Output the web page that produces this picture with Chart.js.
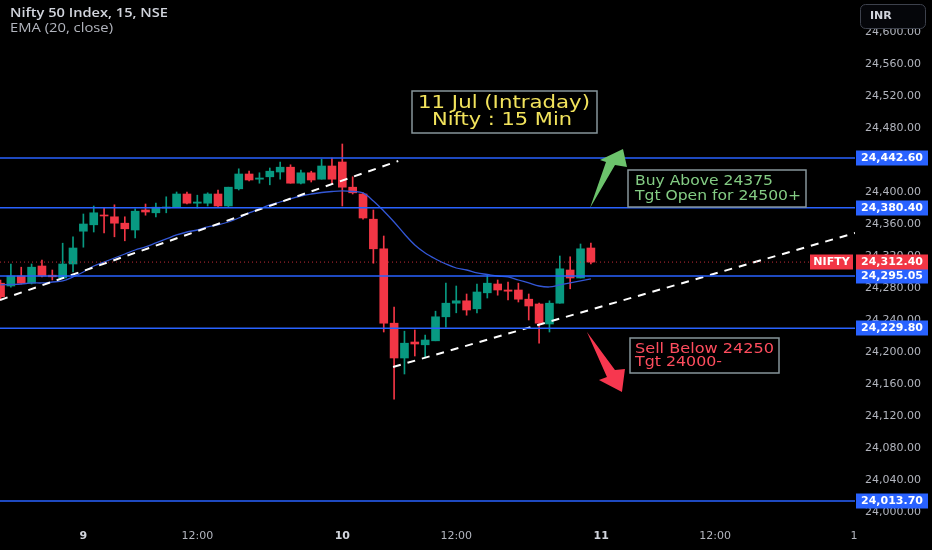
<!DOCTYPE html>
<html>
<head>
<meta charset="utf-8">
<script src="https://cdn.jsdelivr.net/npm/chart.js@4.4.1/dist/chart.umd.min.js"></script>
<style>
  html, body { margin: 0; padding: 0; background: #000; }
  #chart { display: block; }
</style>
</head>
<body>
<canvas id="chart" width="932" height="550"></canvas>
<script>
// 15 min candles, 8 Jul (last 8 bars), 9 Jul and 10 Jul
const opens = [24286, 24282.5, 24295, 24286, 24307.5, 24296, 24292.5, 24310,
  24351, 24359, 24371, 24369, 24361, 24352.5, 24377.5, 24374, 24380, 24381, 24397.5, 24386, 24386,
  24397.5, 24382.5, 24404, 24422.5, 24416, 24419, 24425, 24431, 24411, 24424, 24416, 24432.5,
  24437.5, 24406, 24397.5, 24366, 24329, 24236, 24192.5, 24212.5, 24209, 24214, 24244, 24261,
  24264, 24254, 24274, 24285, 24277.5, 24277.5, 24266, 24260, 24235, 24261, 24302.5, 24292.5, 24330];
const highs = [24290, 24310, 24306, 24310, 24315, 24302.5, 24336, 24344,
  24372.5, 24382.5, 24380, 24384, 24369, 24379, 24385, 24386, 24394, 24400, 24400, 24396, 24399,
  24402.5, 24406, 24429, 24426, 24424, 24430, 24437.5, 24434, 24427.5, 24426, 24441, 24442.5,
  24460, 24419, 24399, 24377.5, 24345, 24256, 24226, 24227.5, 24221, 24251, 24286, 24282.5,
  24272.5, 24285, 24296, 24290, 24287.5, 24286, 24272.5, 24261, 24264, 24320, 24319, 24335, 24336];
const lows = [24265, 24281, 24285, 24285, 24294, 24290, 24292, 24300,
  24331, 24350, 24349, 24344, 24339, 24342.5, 24371, 24369, 24374, 24381, 24385, 24380, 24382.5,
  24381, 24381, 24402.5, 24414, 24411, 24409, 24416, 24411, 24410, 24412.5, 24416, 24410,
  24382.5, 24397.5, 24366, 24311, 24225, 24141, 24172.5, 24195, 24192.5, 24214, 24231, 24249,
  24246, 24249, 24267.5, 24271, 24265, 24262.5, 24240, 24211, 24225, 24261, 24279, 24292.5, 24310];
const closes = [24269, 24295, 24286, 24306, 24295, 24294, 24310, 24330,
  24360, 24374, 24370, 24361, 24354, 24376, 24375, 24381, 24381, 24397.5, 24386, 24387.5, 24397.5,
  24382.5, 24406, 24422.5, 24415, 24417.5, 24426, 24431, 24411, 24424, 24415, 24432.5, 24416,
  24406, 24399, 24367.5, 24329, 24236, 24192.5, 24211, 24210, 24215, 24244, 24261, 24264,
  24252.5, 24275, 24286, 24277.5, 24276, 24266, 24257.5, 24236, 24261, 24304, 24292.5, 24329, 24312.4];
const ema20 = [24283.8, 24284.4, 24285, 24286.3, 24286.3, 24287.5, 24288.8, 24293.8,
  24300, 24307.5, 24312.5, 24317.5, 24322.5, 24327.5, 24331.3, 24336.3, 24341.3, 24346.3, 24350, 24352.5, 24356.3,
  24358.8, 24362.5, 24367.5, 24373.8, 24378.8, 24383.8, 24387.5, 24391.3, 24395, 24397.5, 24399.4, 24400.6,
  24401.3, 24400.6, 24398.8, 24388.8, 24376.3, 24362.5, 24347.5, 24333.8, 24323.8, 24316.3, 24310, 24305,
  24302.5, 24298.8, 24296.9, 24295, 24293.8, 24290, 24286.3, 24282.5, 24281.3, 24283.8, 24286.3, 24288.8, 24291.3];

const levels = [24442.60, 24380.40, 24295.05, 24229.80, 24013.70];
const lastPrice = 24312.40;
const upperTrendX = [-0.05, 38.4];
const upperTrendY = [24265, 24438.75];
const lowerTrendX = [37.9, 82.5];
const lowerTrendY = [24181.25, 24348.75];

const priceTicks = [24000, 24040, 24080, 24120, 24160, 24200, 24240, 24280, 24320, 24360, 24400, 24440, 24480, 24520, 24560, 24600];
const timeTickPos = [8, 19, 33, 44, 58, 69, 82.4];
const timeTickLabels = ['9', '12:00', '10', '12:00', '11', '12:00', '1'];
const dayLabels = ['9', '10', '11'];

const X_MIN = -0.05, X_MAX = 82.5;
const upColor = '#089981', downColor = '#f23645';
const levelColor = '#2962ff';

const candleColors = closes.map((c, i) => c >= opens[i] ? upColor : downColor);
const wickData = opens.map((o, i) => ({x: i, y: [lows[i], highs[i]]}));
const bodyData = opens.map((o, i) => ({x: i, y: [o, closes[i]]}));
const emaData = ema20.map((v, i) => ({x: i, y: v}));

function flatLine(v) {
  return [{x: X_MIN, y: v}, {x: X_MAX, y: v}];
}

const datasets = [];
levels.forEach(v => {
  datasets.push({type: 'line', data: flatLine(v), borderColor: levelColor, borderWidth: 1.5,
    pointRadius: 0, order: 0});
});
datasets.push({type: 'line', data: flatLine(lastPrice), borderColor: 'rgba(242,54,69,0.8)', borderWidth: 1,
  borderDash: [1, 3], pointRadius: 0, order: 0});
datasets.push({type: 'line', data: upperTrendX.map((x, i) => ({x: x, y: upperTrendY[i]})),
  borderColor: '#ffffff', borderWidth: 2, borderDash: [8, 7], pointRadius: 0, order: 0});
datasets.push({type: 'line', data: lowerTrendX.map((x, i) => ({x: x, y: lowerTrendY[i]})),
  borderColor: '#ffffff', borderWidth: 2, borderDash: [8, 7], pointRadius: 0, order: 0});
datasets.push({type: 'line', data: emaData, borderColor: '#3357d6', borderWidth: 1.3, tension: 0.35,
  pointRadius: 0, order: 1});
datasets.push({type: 'bar', data: bodyData, backgroundColor: candleColors, barThickness: 8,
  minBarLength: 1, grouped: false, order: 2});
datasets.push({type: 'bar', data: wickData, backgroundColor: candleColors, barThickness: 1,
  grouped: false, order: 3});

// annotations anchored in data coordinates (index, price)
const noteBoxes = [
  {at: [39.73, 24526.25], w: 185, h: 42, color: '#f2e35c', font: '17px "DejaVu Sans"',
    lines: [['11 Jul (Intraday)', 6, 13, 172], ['Nifty : 15 Min', 20, 30, 140]]},
  {at: [60.58, 24427.5], w: 178, h: 37, color: '#84cc84', font: '14px "DejaVu Sans"',
    lines: [['Buy Above 24375', 7, 11, 138], ['Tgt Open for 24500+', 7, 26, 166]]},
  {at: [60.78, 24217.5], w: 149, h: 35, color: '#ff4d5e', font: '14px "DejaVu Sans"',
    lines: [['Sell Below 24250', 5, 11, 139], ['Tgt 24000-', 5, 24, 87]]}
];
const arrows = [
  {tip: [60.1, 24453.75], color: '#6cc36c',
    shape: [[0, 0], [4, 18], [-8, 16], [-33, 59], [-17, 13], [-23, 11]]},
  {tip: [60.0, 24150], color: '#f7374f',
    shape: [[0, 0], [-23, -12], [-15, -15], [-35, -60], [-7, -22], [3, -23]]}
];

function fitText(ctx, str, left, midY, width, font, color) {
  ctx.save();
  ctx.font = font;
  ctx.fillStyle = color;
  ctx.textBaseline = 'middle';
  ctx.textAlign = 'left';
  const w = ctx.measureText(str).width;
  ctx.translate(left, midY);
  ctx.scale(width / w, 1);
  ctx.fillText(str, 0, 0);
  ctx.restore();
}

function priceLabel(ctx, x0, py, w, bg, text) {
  ctx.fillStyle = bg;
  ctx.fillRect(x0, Math.round(py) - 7.5, w, 15);
  ctx.fillStyle = '#ffffff';
  ctx.font = 'bold 11px "DejaVu Sans"';
  ctx.textAlign = 'center';
  ctx.textBaseline = 'middle';
  ctx.fillText(text, x0 + w / 2, Math.round(py) + 0.5);
}

const fmt = v => v.toLocaleString('en-US', {minimumFractionDigits: 2, maximumFractionDigits: 2});

const overlay = {
  id: 'overlay',
  beforeDraw(chart) {
    const ctx = chart.ctx;
    ctx.save();
    ctx.fillStyle = '#000';
    ctx.fillRect(0, 0, chart.width, chart.height);
    ctx.restore();
  },
  afterDraw(chart) {
    const {ctx, chartArea} = chart;
    const xs = chart.scales.x, ys = chart.scales.y;
    ctx.save();

    fitText(ctx, 'Nifty 50 Index, 15, NSE', 10, 14, 158, '600 12px "Open Sans"', '#d1d4dc');
    fitText(ctx, 'EMA (20, close)', 10, 29, 103, '12px "Open Sans"', '#b2b5be');

    noteBoxes.forEach(b => {
      const bx = Math.round(xs.getPixelForValue(b.at[0]));
      const by = Math.round(ys.getPixelForValue(b.at[1]));
      ctx.fillStyle = '#000';
      ctx.fillRect(bx, by, b.w, b.h);
      ctx.strokeStyle = '#86959a';
      ctx.lineWidth = 1.5;
      ctx.strokeRect(bx, by, b.w, b.h);
      b.lines.forEach(l => fitText(ctx, l[0], bx + l[1], by + l[2], l[3], b.font, b.color));
    });

    arrows.forEach(a => {
      const tx = xs.getPixelForValue(a.tip[0]);
      const ty = ys.getPixelForValue(a.tip[1]);
      ctx.beginPath();
      a.shape.forEach((p, i) => {
        if (i === 0) ctx.moveTo(tx + p[0], ty + p[1]);
        else ctx.lineTo(tx + p[0], ty + p[1]);
      });
      ctx.closePath();
      ctx.fillStyle = a.color;
      ctx.fill();
    });

    const x0 = chartArea.right + 1;
    levels.forEach(v => priceLabel(ctx, x0, ys.getPixelForValue(v), 72, levelColor, fmt(v)));
    const lp = ys.getPixelForValue(lastPrice);
    priceLabel(ctx, x0, lp, 72, '#f23645', fmt(lastPrice));
    priceLabel(ctx, chartArea.right - 45, lp, 43, '#f23645', 'NIFTY');

    // currency button, it hides the top of the first price label
    ctx.beginPath();
    ctx.roundRect(860.5, 4.5, 65, 24, 5);
    ctx.fillStyle = '#05060a';
    ctx.fill();
    ctx.strokeStyle = '#3d414c';
    ctx.lineWidth = 1;
    ctx.stroke();
    ctx.fillStyle = '#d1d4dc';
    ctx.font = 'bold 11px "DejaVu Sans"';
    ctx.textAlign = 'left';
    ctx.textBaseline = 'middle';
    ctx.fillText('INR', 870, 16);

    ctx.restore();
  }
};

new Chart(document.getElementById('chart'), {
  type: 'bar',
  data: {datasets: datasets},
  options: {
    responsive: false,
    animation: false,
    devicePixelRatio: 1,
    layout: {padding: 0},
    plugins: {legend: {display: false}, tooltip: {enabled: false}},
    scales: {
      x: {
        type: 'linear',
        min: X_MIN,
        max: X_MAX,
        offset: false,
        grid: {display: false, drawTicks: false},
        border: {display: false},
        afterBuildTicks: s => { s.ticks = timeTickPos.map(v => ({value: v})); },
        afterFit: s => { s.height = 30; s.paddingLeft = 0; s.paddingRight = 0; },
        ticks: {
          autoSkip: false,
          maxRotation: 0,
          padding: 10,
          callback: (v, i) => timeTickLabels[i],
          color: c => dayLabels.includes(timeTickLabels[c.index]) ? '#d1d4dc' : '#b2b5be',
          font: c => ({family: 'DejaVu Sans', size: 11,
            weight: dayLabels.includes(timeTickLabels[c.index]) ? 'bold' : 'normal'})
        }
      },
      y: {
        position: 'right',
        min: 23990,
        max: 24640,
        grid: {display: false, drawTicks: false},
        border: {display: false},
        afterBuildTicks: s => { s.ticks = priceTicks.map(v => ({value: v})); },
        afterFit: s => { s.width = 77; s.paddingTop = 0; s.paddingBottom = 0; },
        ticks: {
          padding: 10,
          color: '#b2b5be',
          font: {family: 'DejaVu Sans', size: 11},
          callback: v => fmt(v)
        }
      }
    }
  },
  plugins: [overlay]
});
</script>
</body>
</html>
